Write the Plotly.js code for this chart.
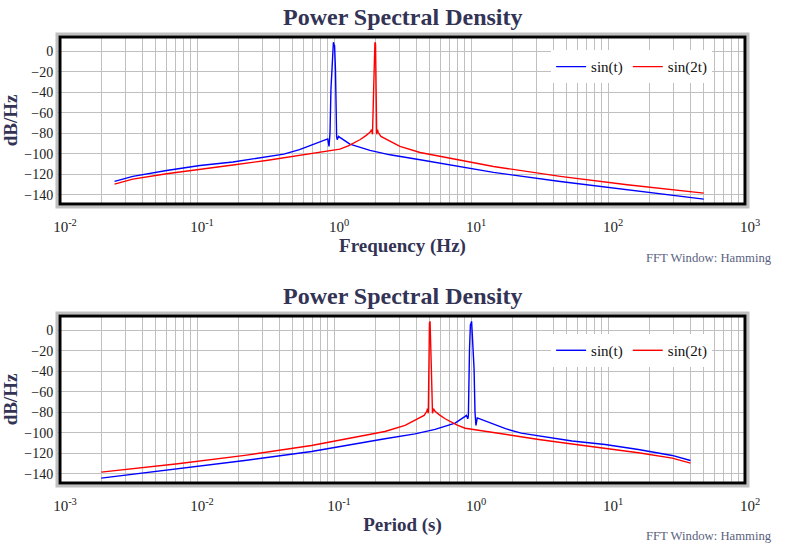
<!DOCTYPE html>
<html>
<head>
<meta charset="utf-8">
<script src="https://cdn.plot.ly/plotly-3.0.1.min.js"></script>
<style>html,body{margin:0;padding:0;background:#fff}</style>
</head>
<body>
<div id="graph" style="width:785px;height:551px"></div>
<script>
// PSD of sin(t) and sin(2t)
let freqSin = [0.025, 0.034, 0.06, 0.105, 0.183, 0.32, 0.43, 0.56, 0.70, 0.80, 0.87, 0.90, 0.92, 0.935,
    0.95, 0.965, 0.98, 0.99, 1.0, 1.01, 1.025, 1.035, 1.045, 1.055, 1.08, 1.104, 1.306, 1.83, 2.56,
    4.25, 9.57, 14.6, 44.8, 138, 500];
let dbSin = [-127, -122.1, -116.3, -111.4, -108, -103.2, -100.3, -96, -91.2, -88.5, -86.3, -85.5, -92.8, -80,
    -37, -18, 5, 8.8, 7, 5.6, -18, -60, -83, -86.3, -83, -84, -90.5, -96.7, -101,
    -105.8, -114, -118.2, -127, -135, -144.2];

let freqSin2 = [0.025, 0.034, 0.06, 0.105, 0.183, 0.32, 0.56, 0.99, 1.104, 1.27, 1.545, 1.70, 1.83, 1.88,
    1.91, 1.95, 1.97, 1.99, 2.01, 2.03, 2.05, 2.08, 2.10, 2.2, 2.43, 3.03, 4.25, 5.94, 9.57,
    14.6, 44.8, 138, 500];
let dbSin2 = [-129.6, -124.7, -119.5, -114.9, -111, -106.5, -101.6, -97, -95.5, -92.3, -86.3, -82.5, -79, -76.5,
    -81, -34, 6, 8.8, 7, -34, -81, -76.5, -79, -83, -86.3, -92.8, -98.7, -102.6, -108,
    -112.4, -122, -130.2, -138.4];

let seriesNames = ['sin(t)', 'sin(2t)'];
let seriesColors = ['#0000ff', '#ff0000'];

let freqDecades = [-2, -1, 0, 1, 2, 3];
let periodDecades = [-3, -2, -1, 0, 1, 2];
let yTicks = [0, -20, -40, -60, -80, -100, -120, -140];

// period axis is just 1/f
let periodSin = freqSin.map(f => 1 / f);
let periodSin2 = freqSin2.map(f => 1 / f);

function logTicks(decades) {
    let vals = [], text = [], minor = [];
    decades.forEach((d, i) => {
        vals.push(Math.pow(10, d));
        text.push('10<sup>' + (d < 0 ? '-' : '') + Math.abs(d) + '</sup>');
        if (i < decades.length - 1) {
            for (let m = 2; m <= 9; m++) minor.push(m * Math.pow(10, d));
        }
    });
    return { vals: vals, text: text, minor: minor };
}

let serif = 'Liberation Serif, Times New Roman, serif';
let titleColor = '#333355';
let fTicks = logTicks(freqDecades);
let pTicks = logTicks(periodDecades);

let data = [
    { x: freqSin, y: dbSin, type: 'scatter', mode: 'lines', name: seriesNames[0],
      line: { color: seriesColors[0], width: 1.4 }, xaxis: 'x', yaxis: 'y', legend: 'legend' },
    { x: freqSin2, y: dbSin2, type: 'scatter', mode: 'lines', name: seriesNames[1],
      line: { color: seriesColors[1], width: 1.4 }, xaxis: 'x', yaxis: 'y', legend: 'legend' },
    { x: periodSin, y: dbSin, type: 'scatter', mode: 'lines', name: seriesNames[0],
      line: { color: seriesColors[0], width: 1.4 }, xaxis: 'x2', yaxis: 'y2', legend: 'legend2' },
    { x: periodSin2, y: dbSin2, type: 'scatter', mode: 'lines', name: seriesNames[1],
      line: { color: seriesColors[1], width: 1.4 }, xaxis: 'x2', yaxis: 'y2', legend: 'legend2' }
];

function xAxis(ticks, range, anchor, title) {
    return {
        type: 'log', range: range, anchor: anchor,
        tickmode: 'array', tickvals: ticks.vals, ticktext: ticks.text, ticks: '',
        ticklabelstandoff: 12, ticklabelshift: 5,
        minor: { tickmode: 'array', tickvals: ticks.minor, showgrid: true, gridcolor: '#c0c0c0', gridwidth: 1, ticks: '' },
        showgrid: true, gridcolor: '#c0c0c0', gridwidth: 1, zeroline: false, showline: false,
        tickfont: { family: serif, size: 15, color: '#222' },
        title: { text: title, font: { family: serif, size: 19, color: titleColor, weight: 'bold' }, standoff: 4 }
    };
}

function yAxis(domain, anchor) {
    return {
        domain: domain, anchor: anchor, range: [-149, 14],
        tickvals: yTicks, ticks: 'outside', ticklen: 3, tickcolor: '#999',
        showgrid: true, gridcolor: '#c0c0c0', gridwidth: 1, zeroline: false, showline: false,
        tickfont: { family: serif, size: 14, color: '#222' },
        title: { text: 'dB/Hz', font: { family: serif, size: 19, color: titleColor, weight: 'bold' }, standoff: 7 }
    };
}

function frame(xr, yr) {
    return [
        { type: 'rect', xref: xr + ' domain', yref: yr + ' domain', x0: -0.0044, x1: 1.0044, y0: -0.018, y1: 1.018,
          line: { color: '#c0c0c0', width: 3 }, layer: 'above' },
        { type: 'rect', xref: xr + ' domain', yref: yr + ' domain', x0: 0, x1: 1, y0: 0, y1: 1,
          line: { color: '#000', width: 3 }, layer: 'above' }
    ];
}

function legendBox(y) {
    return {
        x: 0.952, xanchor: 'right', y: y, yanchor: 'top', orientation: 'h',
        bgcolor: '#fff', font: { family: serif, size: 15, color: '#111' }
    };
}

let layout = {
    width: 785, height: 551,
    margin: { l: 60, r: 40, t: 37, b: 68 },
    paper_bgcolor: '#fff', plot_bgcolor: '#fff',
    font: { family: serif },
    xaxis: xAxis(fTicks, [-2, 3], 'y', 'Frequency (Hz)'),
    yaxis: yAxis([0.6256, 1], 'x'),
    xaxis2: xAxis(pTicks, [-3, 2], 'y2', 'Period (s)'),
    yaxis2: yAxis([0, 0.3744], 'x2'),
    legend: legendBox(0.97),
    legend2: legendBox(0.334),
    shapes: frame('x', 'y').concat(frame('x2', 'y2')),
    annotations: [
        { text: '<b>Power Spectral Density</b>', xref: 'paper', yref: 'paper', x: 0.5, y: 1.045,
          xanchor: 'center', yanchor: 'middle', showarrow: false,
          font: { family: serif, size: 24, color: titleColor } },
        { text: '<b>Power Spectral Density</b>', xref: 'paper', yref: 'paper', x: 0.5, y: 0.419,
          xanchor: 'center', yanchor: 'middle', showarrow: false,
          font: { family: serif, size: 24, color: titleColor } },
        { text: 'FFT Window: Hamming', xref: 'paper', yref: 'paper', x: 1.043, y: 0.5045,
          xanchor: 'right', yanchor: 'middle', showarrow: false,
          font: { family: serif, size: 12.7, color: '#5a5f80' } },
        { text: 'FFT Window: Hamming', xref: 'paper', yref: 'paper', x: 1.043, y: -0.119,
          xanchor: 'right', yanchor: 'middle', showarrow: false,
          font: { family: serif, size: 12.7, color: '#5a5f80' } }
    ]
};

Plotly.newPlot('graph', data, layout, { displayModeBar: false, staticPlot: true });
</script>
</body>
</html>
